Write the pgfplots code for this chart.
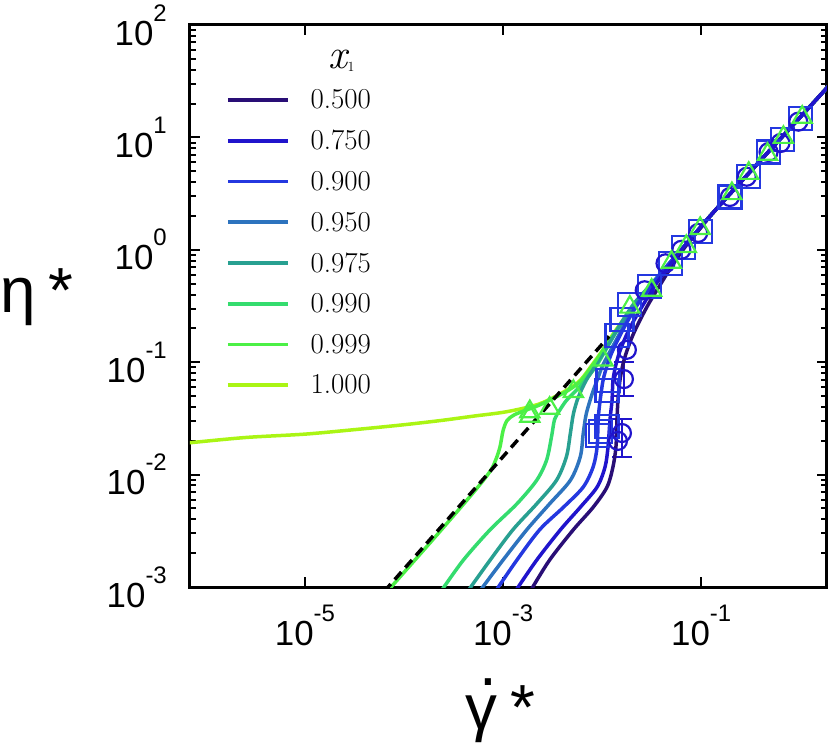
\documentclass[border=0pt]{standalone}
\usepackage{fontspec}
\usepackage{pgfplots}
\pgfplotsset{compat=1.18}
\newfontfamily\arial{Liberation Sans}
\newcommand{\tlab}[1]{{\arial\fontsize{35}{35}\selectfont 10\raisebox{24bp}{\fontsize{24}{24}\selectfont #1}}}
\definecolor{c500}{RGB}{41,14,118}
\definecolor{c750}{RGB}{32,20,204}
\definecolor{c900}{RGB}{36,56,224}
\definecolor{c950}{RGB}{45,115,190}
\definecolor{c975}{RGB}{40,160,145}
\definecolor{c990}{RGB}{52,220,110}
\definecolor{c999}{RGB}{76,240,70}
\definecolor{c1000}{RGB}{170,245,20}
\begin{document}
\begin{tikzpicture}
\begin{axis}[
  scale only axis, width=637bp, height=562bp,
  xmode=log, ymode=log,
  xmin=6.918e-7, xmax=1.862, ymin=1e-3, ymax=1e2,
  xtick={1e-5,1e-3,1e-1}, xticklabels={\tlab{-5},\tlab{-3},\tlab{-1}},
  xminorticks=false,
  ytick={1e-3,1e-2,1e-1,1,10,100},
  yticklabels={\tlab{-3},\tlab{-2},\tlab{-1},\tlab{0},\tlab{1},\tlab{2}},
  axis line style={line width=3bp},
  major tick length=10bp, minor tick length=6bp,
  tick style={black, line width=2bp},
  tick align=inside,
  xticklabel style={inner sep=0pt, anchor=north, yshift=-18bp},
  yticklabel style={inner sep=0pt, anchor=east, xshift=-23bp},
  every axis x label/.style={at={(axis description cs:0.5,0)}, anchor=base, yshift=-142bp, xshift=-8bp, inner sep=0pt},
  every axis y label/.style={at={(axis description cs:0,0.489)}, anchor=base west, xshift=-190bp, inner sep=0pt},
  xlabel={\arial\fontsize{64}{64}\selectfont\makebox[0pt][l]{\hspace{0.22em}\raisebox{0.69em}{.}}γ\hspace{0.2em}*},
  ylabel={\arial\fontsize{64}{64}\selectfont η\hspace{0.2em}*},
  legend style={draw=none, fill=none, at={(axis description cs:0.0565,0.9555)}, anchor=north west,
    inner sep=0pt, row sep=20bp, font=\fontsize{29}{29}\selectfont, nodes={inner sep=0pt}},
  legend cell align=left,
  legend image code/.code={\draw[#1] (0bp,0bp) -- (60bp,0bp); \path (81bp,0bp);},
]
% markers
\addplot[only marks, mark=square, mark size=11.5bp, draw=c900, line width=2.2bp, forget plot] coordinates {
(1,14.79) (6.607e-1,9.550) (4.786e-1,7.413) (3.020e-1,4.467) (1.950e-1,2.951) (9.772e-2,1.445)
(6.607e-2,1.047) (4.898e-2,7.586e-1) (3.020e-2,4.677e-1) (1.905e-2,3.236e-1) (1.585e-2,2.399e-1)
(1.413e-2,1.738e-1) (1.148e-2,6.918e-2) (1.122e-2,5.623e-2) (1.122e-2,2.692e-2) (9.550e-3,2.399e-2) (8.913e-3,2.239e-2)};
\addplot[only marks, mark=o, mark size=9bp, draw=c750, line width=2.2bp, forget plot] coordinates {
(9.550e-1,13.80) (6.310e-1,8.913) (4.786e-1,7.413) (2.884e-1,4.467) (1.950e-1,2.951) (9.333e-2,1.413)
(6.310e-2,1) (4.365e-2,7.586e-1) (2.692e-2,4.365e-1) (1.778e-2,1.288e-1) (1.445e-2,1.995e-2)};
\addplot[only marks, mark=o, mark size=9bp, draw=c750, line width=2.2bp, forget plot,
  error bars/.cd, y dir=both, y explicit, error mark=|,
  error bar style={line width=2bp, c750}, error mark options={line width=2bp, mark size=10bp, c750}] coordinates {
(1.585e-2,2.344e-2) += (0,0.0075) -= (0,0.009)
(1.660e-2,7.079e-2) += (0,0.029) -= (0,0.0207)};
\addplot[only marks, mark=triangle, mark size=11bp, draw=c999, line width=2.2bp, forget plot] coordinates {
(1.047,15.14) (6.761e-1,10) (4.677e-1,7.079) (3.020e-1,4.786) (2.042e-1,3.162) (9.772e-2,1.549)
(7.079e-2,1.072) (5.012e-2,7.762e-1) (3.162e-2,4.365e-1) (1.905e-2,3.090e-1) (1.023e-2,1.047e-1)
(5.129e-3,5.495e-2) (2.951e-3,3.890e-2) (1.862e-3,3.631e-2) (1.862e-3,3.311e-2)};
% curves
\addplot[c1000, line width=3.5bp, smooth, forget plot] coordinates {
(6.310e-7,1.905e-2) (2.512e-6,2.138e-2) (1e-5,2.291e-2) (3.162e-5,2.512e-2) (9.120e-5,2.754e-2)
(2.291e-4,3.020e-2) (5.012e-4,3.311e-2) (1.096e-3,3.631e-2) (2.344e-3,4.266e-2) (4.365e-3,5.623e-2)
(6.026e-3,6.918e-2) (8.128e-3,9.772e-2) (1e-2,1.259e-1) (1.202e-2,1.622e-1) (1.413e-2,1.995e-1)
(1.778e-2,2.630e-1) (2.512e-2,3.802e-1) (3.162e-2,4.898e-1)
(6.310e-2,1) (1.259e-1,2.042) (3.162e-1,5.012) (1,15.14) (2.089,30.90)};
\addplot[c999, line width=3.5bp, smooth, forget plot] coordinates {
(6.310e-5,8.511e-4) (1.995e-4,2.692e-3) (5.012e-4,6.918e-3) (7.413e-4,1.072e-2) (8.511e-4,1.380e-2)
(9.333e-4,1.778e-2) (1e-3,2.455e-2) (1.096e-3,3.020e-2) (1.288e-3,3.388e-2) (1.660e-3,3.715e-2)
(2.344e-3,4.169e-2) (4.365e-3,5.495e-2) (6.026e-3,6.761e-2) (8.128e-3,9.550e-2) (1e-2,1.230e-1)
(1.202e-2,1.585e-1) (1.413e-2,1.950e-1) (1.778e-2,2.570e-1) (2.512e-2,3.715e-1) (3.162e-2,4.898e-1)
(6.310e-2,1) (1.259e-1,2.042) (3.162e-1,5.012) (1,15.14) (2.089,30.90)};
\addplot[c990, line width=3.5bp, smooth, forget plot] coordinates {
(2.399e-4,9.333e-4) (3.981e-4,1.738e-3) (7.413e-4,3.236e-3) (1.380e-3,5.495e-3) (2.188e-3,8.913e-3)
(2.754e-3,1.349e-2) (3.090e-3,2.188e-2) (3.311e-3,3.090e-2) (3.715e-3,3.715e-2) (4.365e-3,4.571e-2)
(5.495e-3,5.623e-2) (7.079e-3,7.244e-2) (8.913e-3,9.550e-2) (1.072e-2,1.259e-1) (1.318e-2,1.738e-1)
(1.660e-2,2.399e-1) (2.239e-2,3.467e-1) (3.162e-2,4.898e-1)
(6.310e-2,1) (1.259e-1,2.042) (3.162e-1,5.012) (1,15.14) (2.089,30.90)};
\addplot[c975, line width=3.5bp, smooth, forget plot] coordinates {
(4.467e-4,9.333e-4) (7.413e-4,1.738e-3) (1.259e-3,3.236e-3) (2.188e-3,5.495e-3) (3.467e-3,8.913e-3)
(4.365e-3,1.445e-2) (4.786e-3,2.344e-2) (5.129e-3,3.467e-2) (5.754e-3,4.898e-2) (6.918e-3,6.918e-2)
(8.318e-3,8.913e-2) (1.023e-2,1.202e-1) (1.259e-2,1.622e-1) (1.585e-2,2.291e-1) (2.089e-2,3.311e-1)
(2.818e-2,4.467e-1) (3.981e-2,6.310e-1)
(6.310e-2,1) (1.259e-1,2.042) (3.162e-1,5.012) (1,15.14) (2.089,30.90)};
\addplot[c950, line width=3.5bp, smooth, forget plot] coordinates {
(5.888e-4,9.333e-4) (1e-3,1.738e-3) (1.738e-3,3.236e-3) (2.951e-3,5.495e-3) (4.786e-3,8.913e-3)
(6.026e-3,1.445e-2) (6.457e-3,2.344e-2) (6.918e-3,3.467e-2) (7.943e-3,5.248e-2) (8.913e-3,6.918e-2)
(1e-2,9.120e-2) (1.175e-2,1.202e-1) (1.413e-2,1.622e-1) (1.738e-2,2.291e-1) (2.239e-2,3.311e-1)
(3.020e-2,4.677e-1) (4.169e-2,6.607e-1)
(6.310e-2,1) (1.259e-1,2.042) (3.162e-1,5.012) (1,15.14) (2.089,30.90)};
\addplot[c900, line width=3.5bp, smooth, forget plot] coordinates {
(8.511e-4,9.333e-4) (1.380e-3,1.738e-3) (2.344e-3,3.236e-3) (4.074e-3,5.129e-3) (6.457e-3,7.762e-3)
(8.128e-3,1.175e-2) (8.913e-3,1.778e-2) (9.120e-3,3.090e-2) (9.550e-3,4.571e-2) (1.023e-2,6.918e-2)
(1.122e-2,9.333e-2) (1.259e-2,1.230e-1) (1.479e-2,1.660e-1) (1.820e-2,2.344e-1) (2.344e-2,3.388e-1)
(3.162e-2,4.786e-1) (4.365e-2,6.918e-1)
(6.310e-2,1) (1.259e-1,2.042) (3.162e-1,5.012) (1,15.14) (2.089,30.90)};
\addplot[c500, line width=3.5bp, smooth, forget plot] coordinates {
(1.905e-3,9.333e-4) (2.951e-3,1.738e-3) (5.129e-3,3.236e-3) (8.128e-3,5.129e-3) (1.122e-2,7.762e-3)
(1.288e-2,1.175e-2) (1.380e-2,1.778e-2) (1.413e-2,3.090e-2) (1.445e-2,4.571e-2) (1.514e-2,6.918e-2)
(1.622e-2,9.550e-2) (1.778e-2,1.259e-1) (2.042e-2,1.738e-1) (2.399e-2,2.344e-1) (2.951e-2,3.311e-1)
(3.802e-2,4.786e-1) (5.012e-2,7.079e-1) (7.079e-2,1.096) (1e-1,1.585)
(1.259e-1,2.042) (3.162e-1,5.012) (1,15.14) (2.089,30.90)};
\addplot[c750, line width=3.5bp, smooth, forget plot] coordinates {
(1.349e-3,9.333e-4) (2.188e-3,1.738e-3) (3.802e-3,3.236e-3) (6.026e-3,5.129e-3) (8.913e-3,7.762e-3)
(1.072e-2,1.175e-2) (1.148e-2,1.778e-2) (1.202e-2,3.090e-2) (1.259e-2,4.571e-2) (1.288e-2,6.918e-2)
(1.380e-2,9.550e-2) (1.514e-2,1.259e-1) (1.738e-2,1.698e-1) (2.089e-2,2.344e-1) (2.630e-2,3.311e-1)
(3.467e-2,4.898e-1) (4.786e-2,7.244e-1)
(6.310e-2,1) (1.259e-1,2.042) (3.162e-1,5.012) (1,15.14) (2.089,30.90)};
% dashed reference line
\addplot[black, line width=3.5bp, dash pattern=on 10bp off 6bp, forget plot] coordinates {
(6.310e-5,9.120e-4) (1.175e-2,1.698e-1)};
% legend
\addlegendimage{empty legend}
\addlegendentry{\raisebox{0pt}[18bp][-8.5bp]{\hspace{18bp}\fontsize{42}{42}\selectfont\itshape x\raisebox{-3bp}{\fontsize{14}{14}\selectfont\upshape 1}}}
\addlegendimage{c500, line width=3.5bp}\addlegendentry{0.500}
\addlegendimage{c750, line width=3.5bp}\addlegendentry{0.750}
\addlegendimage{c900, line width=3.5bp}\addlegendentry{0.900}
\addlegendimage{c950, line width=3.5bp}\addlegendentry{0.950}
\addlegendimage{c975, line width=3.5bp}\addlegendentry{0.975}
\addlegendimage{c990, line width=3.5bp}\addlegendentry{0.990}
\addlegendimage{c999, line width=3.5bp}\addlegendentry{0.999}
\addlegendimage{c1000, line width=3.5bp}\addlegendentry{1.000}
\end{axis}
\path ([xshift=-190bp,yshift=25bp]current axis.north west) rectangle ([xshift=4bp,yshift=-156bp]current axis.south east);
\end{tikzpicture}
\end{document}
